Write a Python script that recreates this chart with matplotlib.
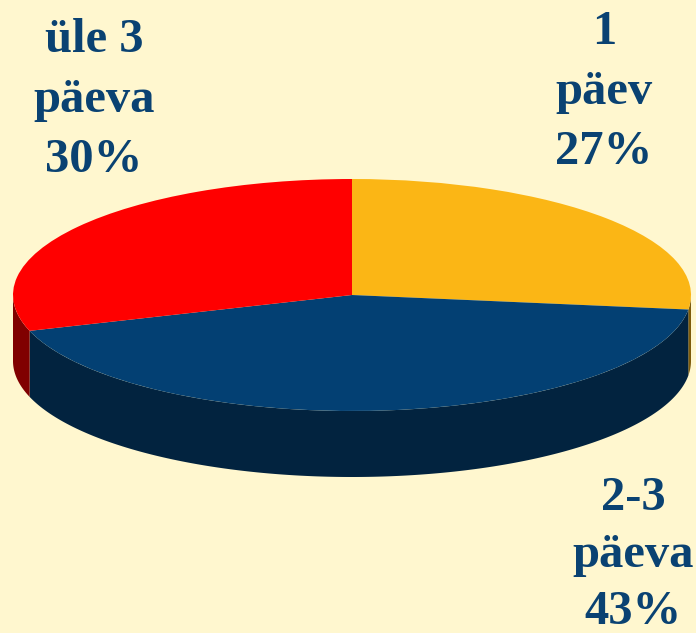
import numpy as np
import matplotlib
matplotlib.use("Agg")
import matplotlib.pyplot as plt

labels = ["1\npäev\n27%", "2-3\npäeva\n43%", "üle 3\npäeva\n30%"]
values = [27, 43, 30]
top_colors = ["#FBB615", "#034073", "#FF0000"]
side_colors = ["#7E5C0B", "#02233F", "#800000"]
label_color = "#0A4272"
bg = "#FFF7CF"

W, H = 696, 633
fig = plt.figure(figsize=(W / 100, H / 100), dpi=100, facecolor=bg)
ax = fig.add_axes([0, 0, 1, 1])
ax.set_facecolor(bg)

# axes scale: one unit = pie radius horizontally / vertically
rx, ry = 339.0, 116.0
cx, cy = 352.0, 295.0
depth = 66.0 / ry

# side wall: only the front half of the rim is visible
angles = 90 - np.cumsum([0] + values) * 3.6
for i, c in enumerate(side_colors):
    t = np.radians(np.linspace(angles[i], angles[i + 1], 400))
    t = t[np.sin(t) <= 0]
    x, y = np.cos(t), np.sin(t)
    ax.fill(np.r_[x, x[::-1]], np.r_[y, (y - depth)[::-1]], color=c, lw=0, zorder=1)

# top face
wedges, _ = ax.pie(values, colors=top_colors, startangle=90, counterclock=False,
                   radius=1, wedgeprops=dict(linewidth=0))
for w in wedges:
    w.set_zorder(2)
ax.set_aspect("auto")
ax.set_xlim(-cx / rx, (W - cx) / rx)
ax.set_ylim(-(H - cy) / ry, cy / ry)
ax.axis("off")

font = dict(family="Liberation Serif", fontweight="bold", fontsize=35, color=label_color,
            ha="center", va="center", zorder=3)
pos = [(604, 92), (633, 555), (94, 100)]
spacing = [1.46, 1.38, 1.46]
for lab, (px, py), ls in zip(labels, pos, spacing):
    ax.text(px / W, 1 - py / H, lab, transform=ax.transAxes, linespacing=ls, **font)

fig.savefig("out.png", dpi=100, facecolor=bg)
